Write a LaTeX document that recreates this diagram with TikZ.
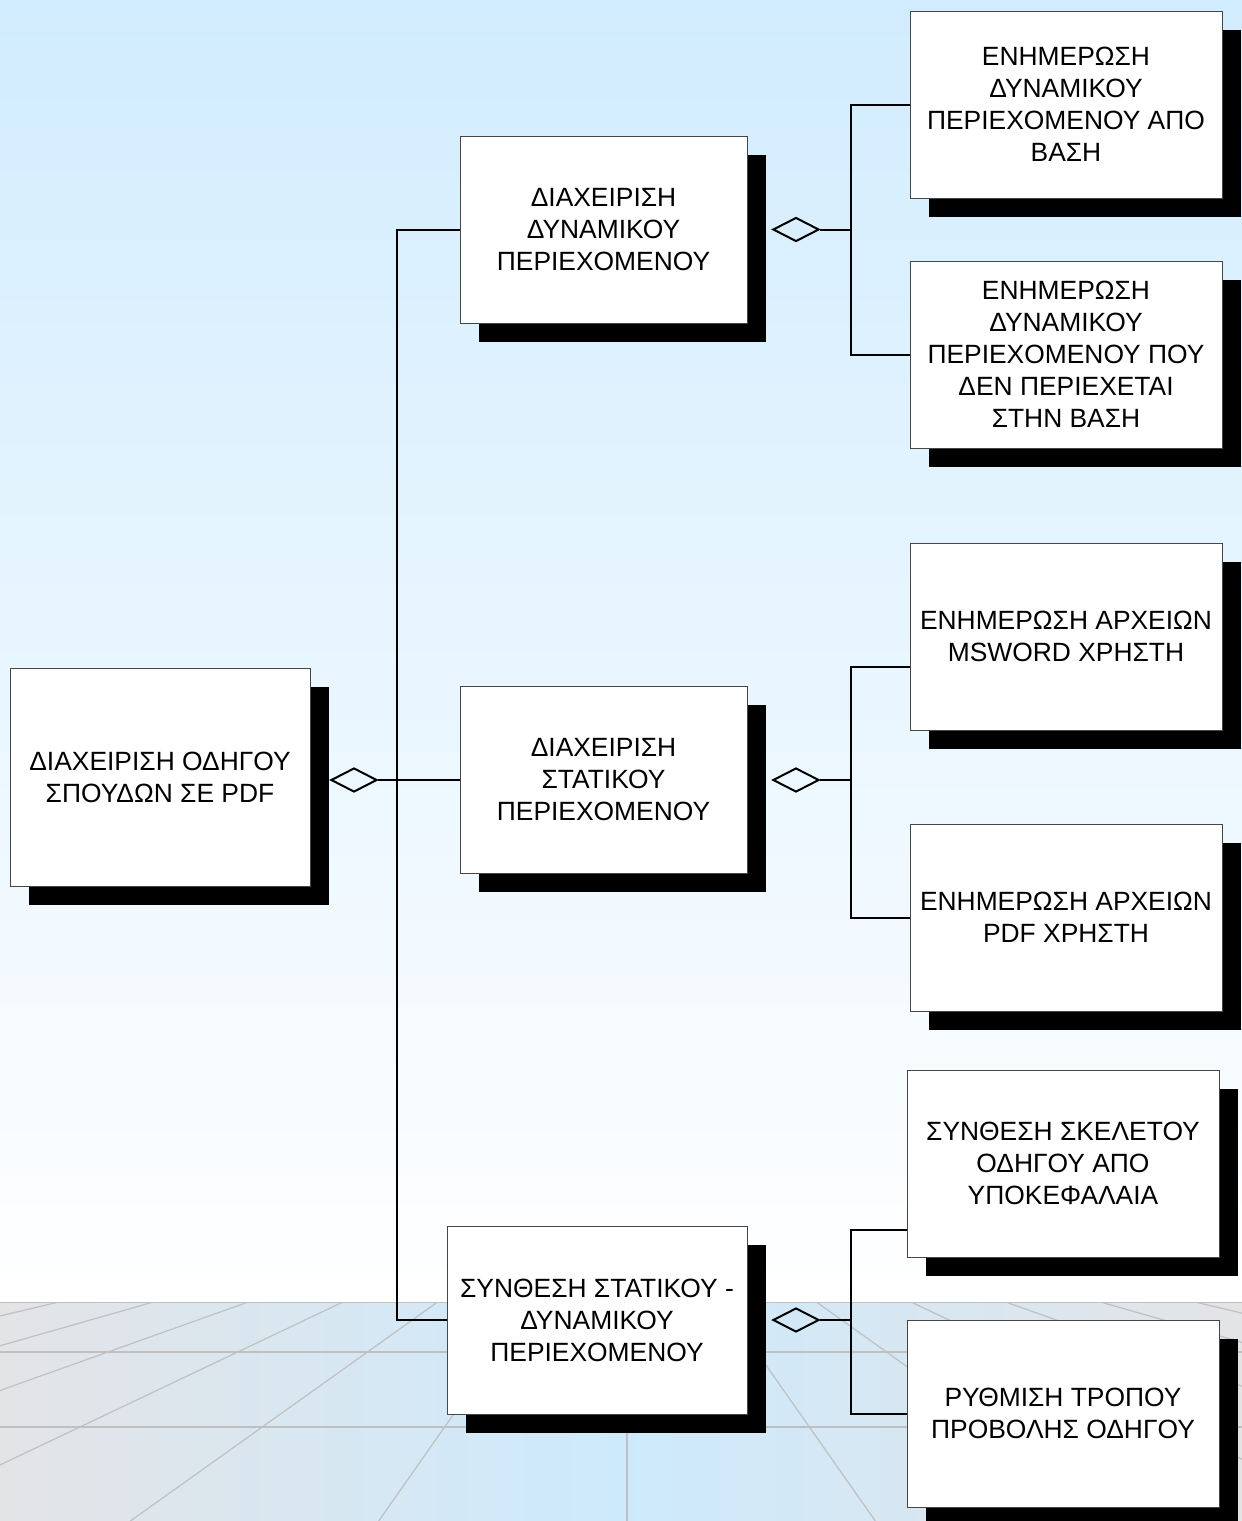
\documentclass[tikz,border=0pt]{standalone}
\usepackage{fontspec}
\setmainfont{Liberation Sans}
\usetikzlibrary{shapes.geometric,shadows,calc}

\definecolor{skytop}{RGB}{209,236,254}
\definecolor{floorgray}{RGB}{227,228,230}
\definecolor{floorblue}{RGB}{205,234,252}
\definecolor{gridgray}{RGB}{192,192,192}
\definecolor{edgegray}{RGB}{70,70,70}

\tikzset{
  box/.style={draw=edgegray, line width=0.5pt, fill=white, align=center, inner sep=0pt,
    font=\fontsize{13.2}{16}\selectfont,
    drop shadow={shadow xshift=9.5pt, shadow yshift=-9.5pt, fill=black, opacity=1}},
  link/.style={line width=1pt, draw=black},
  agg/.style={draw=black, line width=1pt, shape=diamond, minimum width=23pt,
    minimum height=12pt, inner sep=0pt, anchor=west},
  floorline/.style={draw=gridgray, line width=0.6pt},
}

\begin{document}
\begin{tikzpicture}[x=0.5pt, y=-0.5pt]
\useasboundingbox (0,0) rectangle (1242,1521);

% sky and floor
\fill[top color=skytop, bottom color=white] (0,0) rectangle (1242,1302);
\shade[left color=floorgray, right color=floorblue] (0,1302) rectangle (621,1521);
\shade[left color=floorblue, right color=floorgray] (621,1302) rectangle (1242,1521);
\begin{scope}
  \clip (0,1302) rectangle (1242,1521);
  \foreach \k in {-6,...,6} {
    \pgfmathsetmacro\xh{627+94.7*\k}
    \pgfmathsetmacro\xb{\xh+(\xh-627)*1.6222}
    \draw[floorline] (\xh,1302) -- (\xb,1521);
  }
  \foreach \yy in {1302,1352,1427} {
    \draw[floorline] (0,\yy) -- (1242,\yy);
  }
\end{scope}

% root
\node[box, minimum width=150pt, minimum height=109pt] (root) at (160,777)
  {ΔΙΑΧΕΙΡΙΣΗ ΟΔΗΓΟΥ\\ΣΠΟΥΔΩΝ ΣΕ PDF};

% first level
\node[box, minimum width=143.5pt, minimum height=93.5pt] (b1) at (603.5,229.5)
  {ΔΙΑΧΕΙΡΙΣΗ\\ΔΥΝΑΜΙΚΟΥ\\ΠΕΡΙΕΧΟΜΕΝΟΥ};
\node[box, minimum width=143.5pt, minimum height=93.5pt] (b2) at (603.5,779.5)
  {ΔΙΑΧΕΙΡΙΣΗ\\ΣΤΑΤΙΚΟΥ\\ΠΕΡΙΕΧΟΜΕΝΟΥ};
\node[box, minimum width=150pt, minimum height=94pt] (b3) at (597,1320)
  {ΣΥΝΘΕΣΗ ΣΤΑΤΙΚΟΥ -\\ΔΥΝΑΜΙΚΟΥ\\ΠΕΡΙΕΧΟΜΕΝΟΥ};

% second level
\node[box, minimum width=156pt, minimum height=93.5pt] (c1) at (1066,104.5)
  {ΕΝΗΜΕΡΩΣΗ\\ΔΥΝΑΜΙΚΟΥ\\ΠΕΡΙΕΧΟΜΕΝΟΥ ΑΠΟ\\ΒΑΣΗ};
\node[box, minimum width=156pt, minimum height=93.5pt] (c2) at (1066,354.5)
  {ΕΝΗΜΕΡΩΣΗ\\ΔΥΝΑΜΙΚΟΥ\\ΠΕΡΙΕΧΟΜΕΝΟΥ ΠΟΥ\\ΔΕΝ ΠΕΡΙΕΧΕΤΑΙ\\ΣΤΗΝ ΒΑΣΗ};
\node[box, minimum width=156pt, minimum height=93.5pt] (c3) at (1066,636.5)
  {ΕΝΗΜΕΡΩΣΗ ΑΡΧΕΙΩΝ\\MSWORD ΧΡΗΣΤΗ};
\node[box, minimum width=156pt, minimum height=93.5pt] (c4) at (1066,917.5)
  {ΕΝΗΜΕΡΩΣΗ ΑΡΧΕΙΩΝ\\PDF ΧΡΗΣΤΗ};
\node[box, minimum width=156pt, minimum height=93.5pt] (c5) at (1063,1163.5)
  {ΣΥΝΘΕΣΗ ΣΚΕΛΕΤΟΥ\\ΟΔΗΓΟΥ ΑΠΟ\\ΥΠΟΚΕΦΑΛΑΙΑ};
\node[box, minimum width=156pt, minimum height=93.5pt] (c6) at (1063,1413.5)
  {ΡΥΘΜΙΣΗ ΤΡΟΠΟΥ\\ΠΡΟΒΟΛΗΣ ΟΔΗΓΟΥ};

% aggregation from the root
\node[agg] (d0) at (330,780) {};
\coordinate (t0) at (397,780);
\draw[link] (d0.east) -- (d0.east -| b2.west);
\draw[link] (b1.west) -- (b1.west -| t0) -- (b3.west -| t0) -- (b3.west);

% aggregation: dynamic content
\node[agg] (d1) at (772,229.5) {};
\coordinate (v1) at (851,229.5);
\draw[link] (d1.east) -- (v1);
\draw[link] (c1.west) -- (c1.west -| v1) -- (c2.west -| v1) -- (c2.west);

% aggregation: static content
\node[agg] (d2) at (772,780) {};
\coordinate (v2) at (851,780);
\coordinate (e3) at ([yshift=-15.25pt]c3.west);
\draw[link] (d2.east) -- (v2);
\draw[link] (e3) -- (e3 -| v2) -- (c4.west -| v2) -- (c4.west);

% aggregation: composition
\node[agg] (d3) at (772,1320) {};
\coordinate (v3) at (851,1320);
\coordinate (e5) at ([yshift=-33.25pt]c5.west);
\draw[link] (d3.east) -- (v3);
\draw[link] (e5) -- (e5 -| v3) -- (c6.west -| v3) -- (c6.west);
\end{tikzpicture}
\end{document}
